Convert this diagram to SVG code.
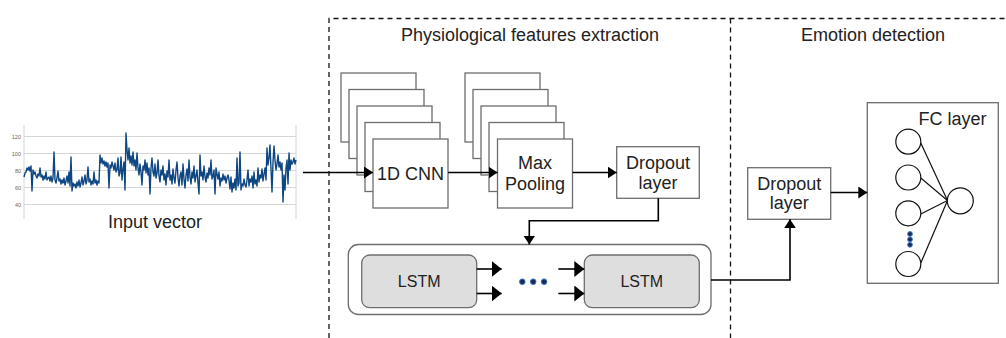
<svg xmlns="http://www.w3.org/2000/svg" width="1006" height="338" viewBox="0 0 1006 338">
<defs>
<style>
.t{font-family:"Liberation Sans",Arial,sans-serif;font-size:18px;fill:#222;text-anchor:middle}
.s{font-family:"Liberation Sans",Arial,sans-serif;font-size:16px;fill:#222;text-anchor:middle}
.ax{font-family:"Liberation Sans",Arial,sans-serif;font-size:5.5px;fill:#666;text-anchor:end}
.grid{stroke:#d6d6d6;stroke-width:1;fill:none}
.card{fill:#fff;stroke:#6e6e6e;stroke-width:1.3}
.box{fill:#fff;stroke:#6e6e6e;stroke-width:1.3}
.lstm{fill:#dedede;stroke:#6e6e6e;stroke-width:1.3}
.dash{stroke:#111;stroke-width:1.3;stroke-dasharray:5 4;fill:none}
.c{stroke:#000;stroke-width:1.6;fill:none}
.neu{fill:#fff;stroke:#111;stroke-width:1.2}
.dot{fill:#1c2b4d;stroke:#3a78c9;stroke-width:1}
</style>
<marker id="arr" markerUnits="userSpaceOnUse" markerWidth="9" markerHeight="12" refX="9" refY="6" orient="auto">
<path d="M0,0 L9,6 L0,12 z" fill="#000"/>
</marker>
<marker id="arrL" markerUnits="userSpaceOnUse" markerWidth="10" markerHeight="16" refX="10" refY="8" orient="auto">
<path d="M0,0 L10,8 L0,16 z" fill="#000"/>
</marker>
</defs>
<rect width="1006" height="338" fill="#fff"/>

<g id="regions">
<path class="dash" d="M329,338 V18.5 H1006"/>
<path class="dash" d="M730.5,18.5 V338"/>
<text class="t" x="530" y="40.5">Physiological features extraction</text>
<text class="t" x="873" y="40.5">Emotion detection</text>
</g>

<g id="input-vector">
<g class="grid">
<line x1="24" y1="136.5" x2="296" y2="136.5"/>
<line x1="24" y1="153.5" x2="296" y2="153.5"/>
<line x1="24" y1="170.5" x2="296" y2="170.5"/>
<line x1="24" y1="187.5" x2="296" y2="187.5"/>
<line x1="24" y1="204.5" x2="296" y2="204.5"/>
<line x1="24" y1="125" x2="24" y2="219"/>
<line x1="296" y1="125" x2="296" y2="219"/>
</g>
<text class="ax" x="21" y="138.5">120</text>
<text class="ax" x="21" y="155.5">100</text>
<text class="ax" x="21" y="172.5">80</text>
<text class="ax" x="21" y="189.5">60</text>
<text class="ax" x="21" y="206.5">40</text>
<polyline fill="none" stroke="#0d4682" stroke-width="1.4" stroke-linejoin="round" points="24,177 25,173 26,172 27,168 28,170 29,167 30,171 31,166 32,191 33,170 34,174 35,172 36,176 37,178 38,174 39,176 40,168 41,177 42,175 43,180 44,176 45,179 46,172 47,180 48,178 49,177 50,181 51,176 52,182 53,178 54,152 55,180 56,183 57,178 58,171 59,181 60,179 61,184 62,180 63,183 64,178 65,185 66,181 67,176 68,183 69,172 70,186 71,157 72,191 73,183 74,186 75,184 76,188 77,182 78,186 79,180 80,187 81,183 82,177 83,185 84,181 85,175 86,184 87,180 88,167 89,182 90,179 91,185 92,181 93,184 94,172 95,183 96,180 97,185 98,181 99,183 100,155 101,163 102,158 103,164 104,161 105,166 106,162 107,167 108,163 109,188 110,165 111,168 112,162 113,166 114,170 115,163 116,172 117,170 118,158 119,176 120,173 121,157 122,180 123,169 124,162 125,190 126,133 127,150 128,160 129,148 130,163 131,156 132,165 133,152 134,166 135,160 136,170 137,153 138,168 139,175 140,164 141,172 142,185 143,166 144,170 145,160 146,173 147,163 148,175 149,168 150,194 151,168 152,158 153,172 154,176 155,164 156,178 157,173 158,160 159,176 160,182 161,170 162,175 163,166 164,180 165,174 166,185 167,171 168,177 169,160 170,180 171,175 172,184 173,169 174,178 175,183 176,170 177,162 178,178 179,186 180,176 181,172 182,185 183,164 184,179 185,188 186,175 187,169 188,181 189,160 190,177 191,184 192,172 193,178 194,166 195,182 196,176 197,170 198,183 199,194 200,155 201,176 202,172 203,180 204,166 205,177 206,182 207,173 208,178 209,168 210,175 211,160 212,179 213,176 214,170 215,194 216,168 217,174 218,179 219,172 220,186 221,178 222,181 223,174 224,180 225,176 226,183 227,178 228,175 229,180 230,189 231,177 232,192 233,183 234,188 235,179 236,190 237,158 238,186 239,183 240,152 241,190 242,184 243,186 244,179 245,185 246,187 247,180 248,170 249,186 250,179 251,182 252,176 253,188 254,172 255,184 256,180 257,186 258,168 259,182 260,175 261,178 262,169 263,181 264,174 265,168 266,180 267,148 268,165 269,158 270,145 271,169 272,192 273,162 274,146 275,160 276,170 277,164 278,155 279,167 280,162 281,170 282,163 283,202 284,175 285,190 286,168 287,160 288,184 289,153 290,170 291,160 292,164 293,162 294,158 295,164 296,160"/>
<text class="t" x="155" y="228">Input vector</text>
</g>

<g id="cnn">
<rect class="card" x="341" y="73" width="75" height="69"/>
<rect class="card" x="349" y="89.5" width="75" height="69"/>
<rect class="card" x="357" y="106" width="75" height="69"/>
<rect class="card" x="365" y="122.5" width="75" height="69"/>
<rect class="card" x="373" y="139" width="75" height="69"/>
<text class="t" x="410.5" y="179.5">1D CNN</text>
</g>

<g id="max-pooling">
<rect class="card" x="465" y="73" width="75" height="69"/>
<rect class="card" x="473" y="89.5" width="75" height="69"/>
<rect class="card" x="481" y="106" width="75" height="69"/>
<rect class="card" x="489" y="122.5" width="75" height="69"/>
<rect class="card" x="497.5" y="139" width="75" height="69"/>
<text class="t" x="535" y="169">Max</text>
<text class="t" x="535" y="189.5">Pooling</text>
</g>

<g id="dropout1">
<rect class="box" x="616.7" y="146.7" width="82.6" height="51.6"/>
<text class="t" x="658" y="169.3">Dropout</text>
<text class="t" x="658" y="188.5">layer</text>
</g>

<g id="lstm-block">
<rect class="box" x="348.3" y="244.5" width="362.7" height="70" rx="10"/>
<rect class="lstm" x="361.7" y="255" width="115" height="52.7" rx="8"/>
<text class="s" x="419.2" y="287">LSTM</text>
<rect class="lstm" x="584.3" y="255" width="115" height="52.7" rx="8"/>
<text class="s" x="641.8" y="287">LSTM</text>
<circle class="dot" cx="522.3" cy="281.7" r="2.8"/>
<circle class="dot" cx="533.2" cy="281.7" r="2.8"/>
<circle class="dot" cx="544.1" cy="281.7" r="2.8"/>
</g>

<g id="dropout2">
<rect class="box" x="747.7" y="167.7" width="83" height="51.6"/>
<text class="t" x="789.2" y="190">Dropout</text>
<text class="t" x="789.2" y="209">layer</text>
</g>

<g id="fc-layer">
<rect class="box" x="867.3" y="102.7" width="131" height="180.6"/>
<text class="t" x="952.5" y="125">FC layer</text>
<g stroke="#111" stroke-width="1.2">
<line x1="920.8" y1="143" x2="947.5" y2="200.5"/>
<line x1="920.8" y1="178" x2="947.5" y2="200.5"/>
<line x1="920.8" y1="214" x2="947.5" y2="200.5"/>
<line x1="920.8" y1="263" x2="947.5" y2="200.5"/>
</g>
<circle class="neu" cx="908.3" cy="141.7" r="12.5"/>
<circle class="neu" cx="908.3" cy="177.5" r="12.5"/>
<circle class="neu" cx="908.3" cy="213.3" r="12.5"/>
<circle class="neu" cx="908.3" cy="264" r="12.5"/>
<circle class="neu" cx="960.3" cy="200.8" r="13"/>
<circle class="dot" cx="910" cy="234" r="2.4"/>
<circle class="dot" cx="910" cy="239.4" r="2.4"/>
<circle class="dot" cx="910" cy="244.8" r="2.4"/>
</g>

<g id="connectors">
<path class="c" d="M303,172.5 H373" marker-end="url(#arr)"/>
<path class="c" d="M448,172.5 H497.5" marker-end="url(#arr)"/>
<path class="c" d="M572.5,172.5 H616.7" marker-end="url(#arr)"/>
<path class="c" d="M658.3,198.3 V220.7 H529.3 V244.5" marker-end="url(#arr)"/>
<path class="c" d="M476.7,269 H501.7" marker-end="url(#arrL)"/>
<path class="c" d="M476.7,293.5 H501.7" marker-end="url(#arrL)"/>
<path class="c" d="M558.3,269 H584.3" marker-end="url(#arrL)"/>
<path class="c" d="M558.3,293.5 H584.3" marker-end="url(#arrL)"/>
<path class="c" d="M711,280 H790 V219.3" marker-end="url(#arr)"/>
<path class="c" d="M830.7,192.5 H867.3" marker-end="url(#arr)"/>
</g>
</svg>
